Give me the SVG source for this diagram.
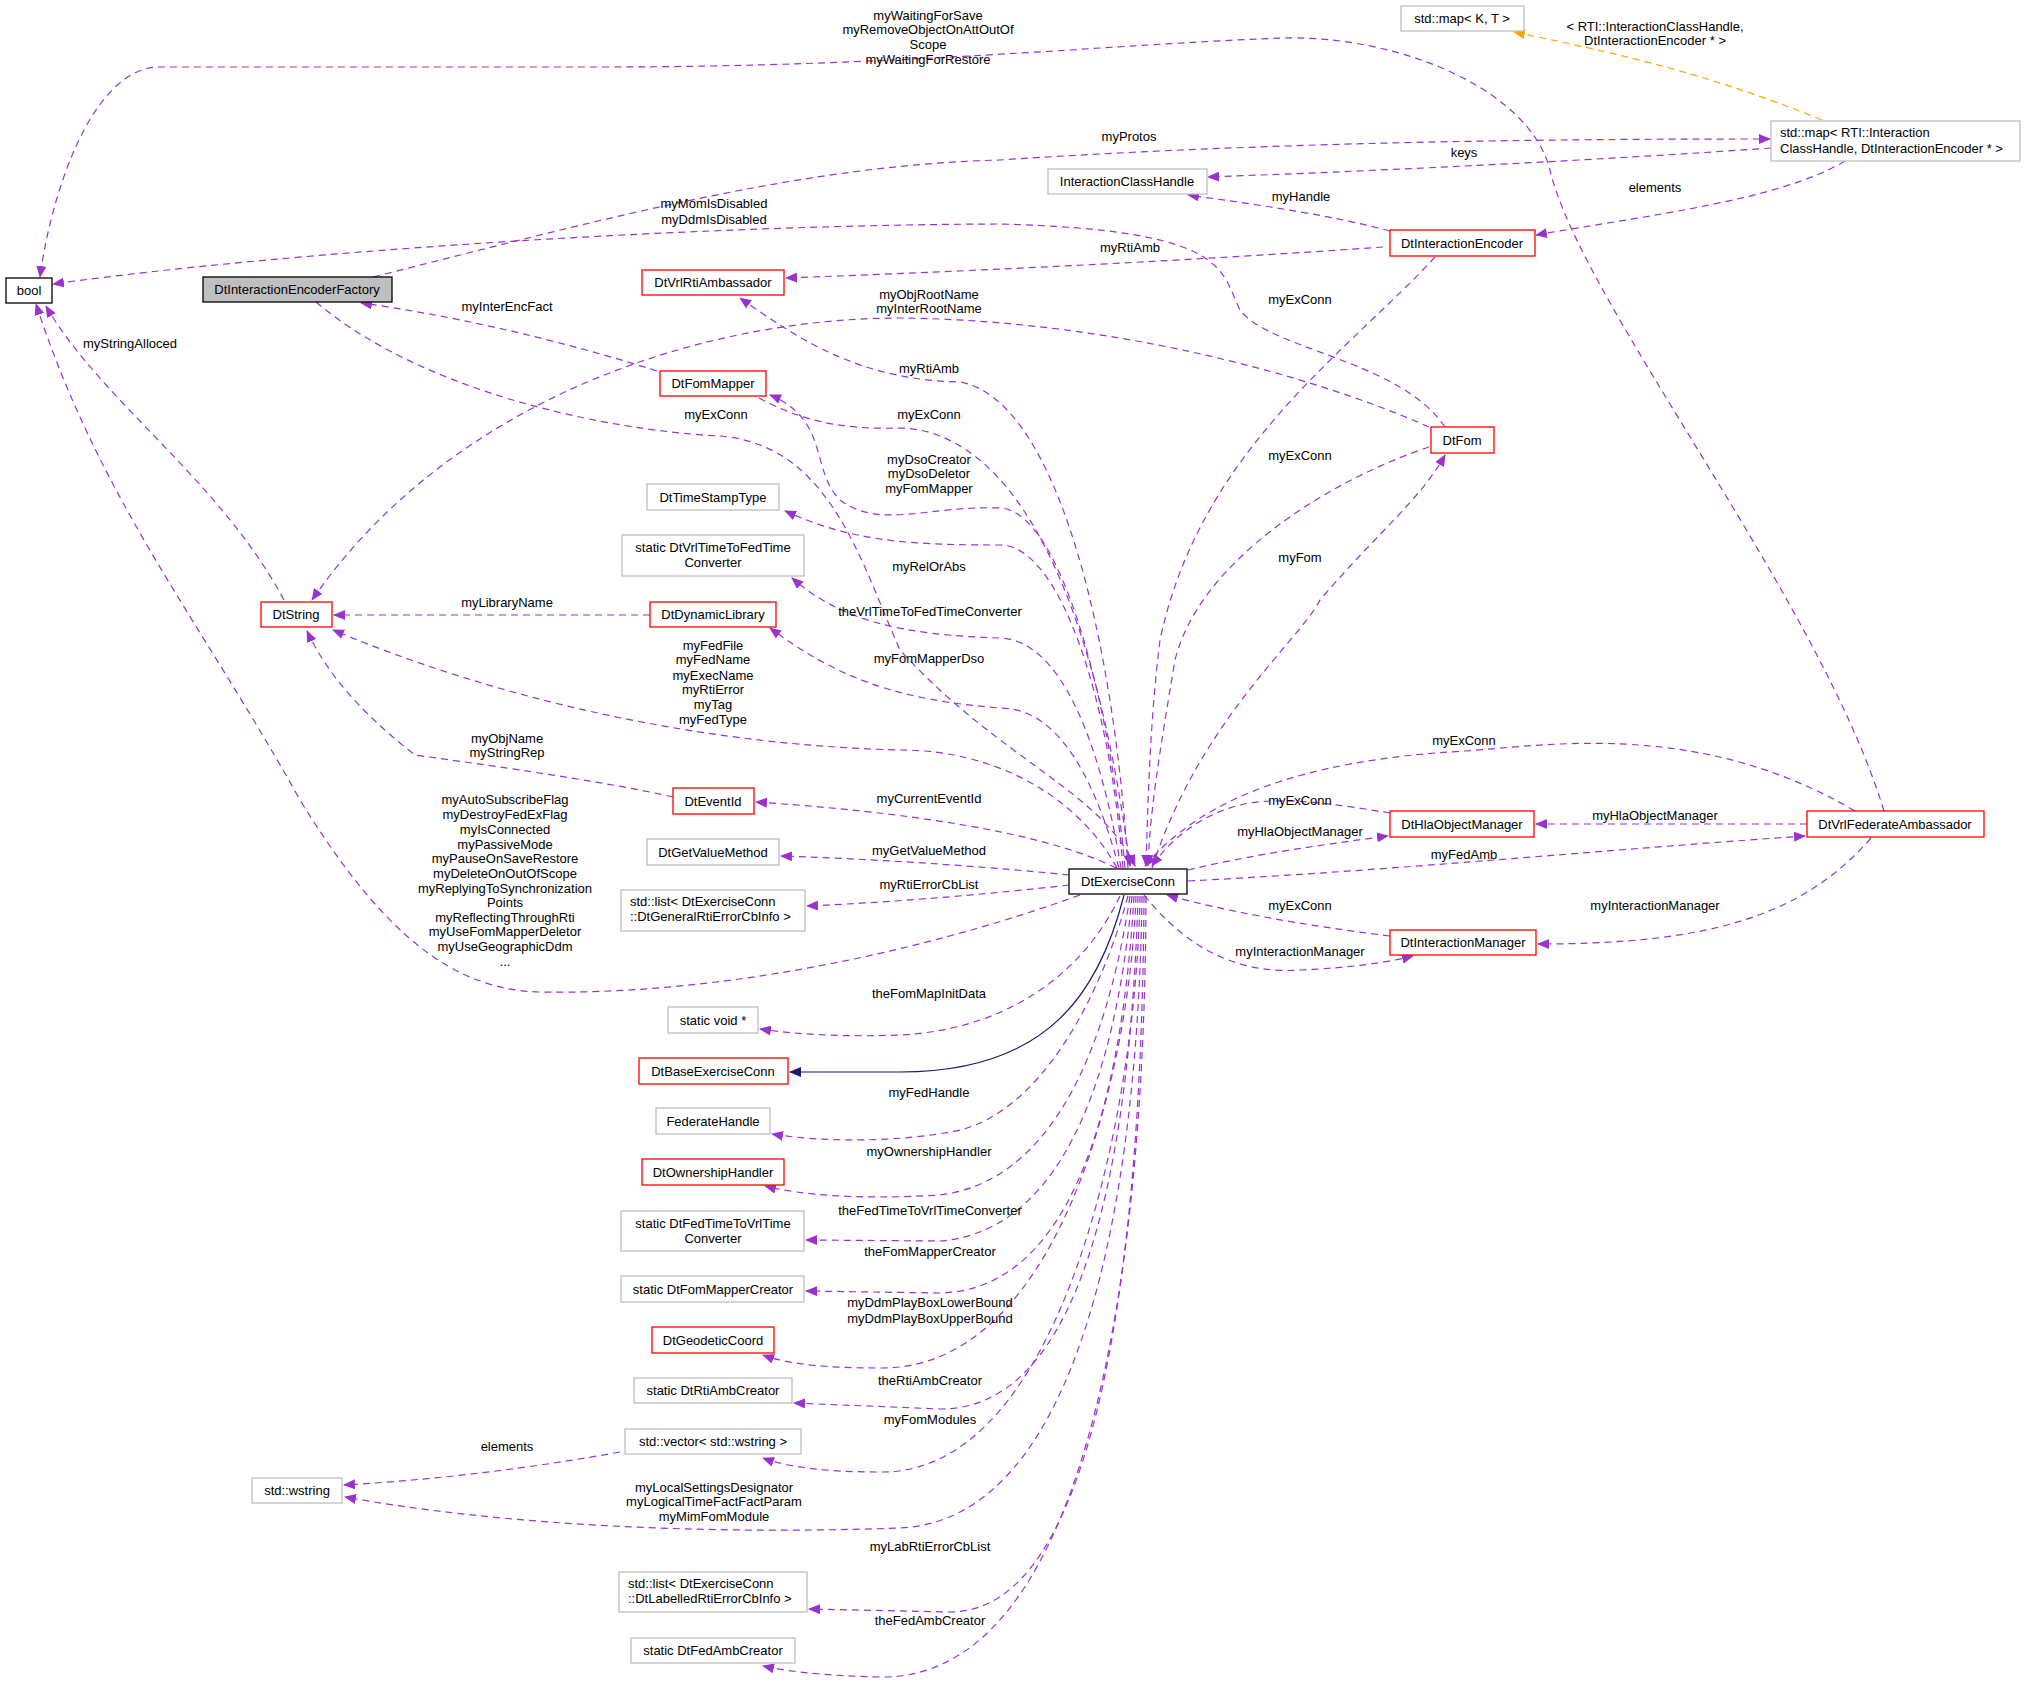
<svg xmlns="http://www.w3.org/2000/svg" width="2027" height="1684" viewBox="0 0 2027 1684">
<style>
.n rect{fill:#fff;stroke-width:1.3}
.r rect{stroke:#ff0000}.g rect{stroke:#bfbfbf}.k rect{stroke:#000}
text{font-family:"Liberation Sans",Arial,sans-serif;font-size:13px;fill:#000}
.n text{text-anchor:middle}
.l text{text-anchor:middle}
.e path{fill:none;stroke:#9a32cd;stroke-width:1.2;stroke-dasharray:7,5;marker-end:url(#a)}
.e path.o{stroke:#ffa500;marker-end:url(#ao)}
.e path.s{stroke:#191970;stroke-dasharray:none;marker-end:url(#as)}
</style>
<defs>
<marker id="a" markerWidth="12" markerHeight="10" refX="11" refY="5" orient="auto" markerUnits="userSpaceOnUse"><path d="M0,0L12,5L0,10z" fill="#9a32cd"/></marker>
<marker id="ao" markerWidth="12" markerHeight="10" refX="11" refY="5" orient="auto" markerUnits="userSpaceOnUse"><path d="M0,0L12,5L0,10z" fill="#ffa500"/></marker>
<marker id="as" markerWidth="12" markerHeight="10" refX="11" refY="5" orient="auto" markerUnits="userSpaceOnUse"><path d="M0,0L12,5L0,10z" fill="#191970"/></marker>
</defs>
<rect width="2027" height="1684" fill="#fff"/>
<g class="e" id="edges">
<path d="M1884,811 C1820,600 1580,300 1550,170 C1530,90 1400,35 1282,38 C1100,45 900,67 600,67 L160,67 C90,67 50,200 40,277"/>
<path d="M373,277 C600,220 800,165 1000,160 C1300,140 1600,139 1770,139"/>
<path d="M1771,148 C1600,160 1400,170 1208,177"/>
<path d="M1845,161 C1780,200 1650,215 1536,235"/>
<path class="o" d="M1822,120 C1700,70 1600,50 1514,32"/>
<path d="M1390,231 C1330,215 1260,205 1188,195"/>
<path d="M1383,247 C1200,260 1000,270 786,278"/>
<path d="M1445,427 C1400,360 1270,350 1240,310 C1220,270 1230,230 1000,224 C700,225 300,250 53,284"/>
<path d="M1429,427 C1300,370 1100,320 900,318 C700,318 450,400 312,600"/>
<path d="M1435,257 C1350,350 1200,450 1160,640 C1150,720 1148,800 1146,866"/>
<path d="M1429,447 C1330,480 1200,560 1175,660 C1160,750 1150,810 1148,866"/>
<path d="M1152,868 C1200,720 1300,640 1320,600 C1380,530 1420,500 1445,455"/>
<path d="M657,371 C560,340 450,315 361,303"/>
<path d="M316,302 C420,390 600,430 720,436 C830,445 860,560 900,650 C1000,760 1100,790 1135,866"/>
<path d="M1128,868 C1115,650 1060,400 960,382 C860,380 800,340 740,298"/>
<path d="M759,398 C800,420 840,430 900,428 C1000,430 1090,560 1130,866"/>
<path d="M1125,868 C1110,700 1060,510 1000,508 C930,505 880,530 840,500 C810,470 830,420 770,395"/>
<path d="M1123,868 C1110,700 1060,545 1000,545 C900,545 850,540 785,511"/>
<path d="M1121,868 C1100,740 1060,640 1000,638 C900,635 840,620 792,578"/>
<path d="M1119,868 C1090,760 1050,708 1000,708 C900,700 840,680 770,628"/>
<path d="M1117,868 C1080,800 1000,750 900,750 C700,745 500,700 333,630"/>
<path d="M673,797 C600,780 450,760 415,755 C370,720 330,680 307,631"/>
<path d="M1116,868 C1060,840 950,815 756,802"/>
<path d="M1069,875 C1000,868 900,860 781,856"/>
<path d="M1069,885 C1000,893 900,902 807,906"/>
<path d="M1080,895 C900,960 700,995 540,992 C450,990 380,930 300,800 C200,620 100,500 36,304"/>
<path d="M1120,896 C1080,980 1000,1030 900,1035 C850,1037 800,1035 760,1029"/>
<path class="s" d="M1124,895 C1100,990 1050,1072 900,1072 L790,1072"/>
<path d="M1128,896 C1100,1000 1040,1110 960,1130 C900,1143 820,1142 772,1134"/>
<path d="M1130,896 C1110,1030 1060,1180 940,1195 C860,1200 800,1195 765,1186"/>
<path d="M1132,896 C1120,1030 1080,1230 940,1241 L806,1240"/>
<path d="M1134,896 C1125,1050 1090,1290 940,1293 L806,1291"/>
<path d="M1136,896 C1130,1070 1060,1370 880,1368 C830,1368 790,1365 763,1355"/>
<path d="M1138,896 C1132,1100 1100,1410 940,1409 L794,1403"/>
<path d="M1140,896 C1136,1120 1060,1475 880,1472 C830,1472 790,1468 763,1458"/>
<path d="M1142,896 C1138,1200 1080,1520 900,1528 C700,1535 500,1525 345,1497"/>
<path d="M1144,896 C1142,1250 1100,1612 950,1612 L809,1609"/>
<path d="M1146,896 C1145,1300 1080,1680 880,1677 C830,1676 790,1672 763,1666"/>
<path d="M620,1452 C520,1470 430,1480 344,1485"/>
<path d="M650,615 L334,615"/>
<path d="M284,600 C220,480 100,400 46,306"/>
<path d="M1390,813 C1340,805 1280,795 1240,805 C1200,815 1170,840 1152,866"/>
<path d="M1188,870 C1250,855 1320,845 1388,836"/>
<path d="M1807,824 L1536,824"/>
<path d="M1855,811 C1700,720 1550,745 1465,751 C1300,760 1200,800 1145,866"/>
<path d="M1188,881 C1400,870 1600,850 1805,836"/>
<path d="M1390,936 C1300,925 1220,910 1167,895"/>
<path d="M1144,895 C1180,940 1230,975 1300,970 C1350,968 1390,962 1413,956"/>
<path d="M1871,838 C1800,920 1700,944 1538,944"/>
</g>
<g class="l" id="labels">
<text x="928" y="20">myWaitingForSave</text><text x="928" y="34">myRemoveObjectOnAttOutOf</text><text x="928" y="49">Scope</text><text x="928" y="64">myWaitingForRestore</text>
<text x="1129" y="141">myProtos</text>
<text x="1464" y="157">keys</text>
<text x="1655" y="192">elements</text>
<text x="1655" y="31">&lt; RTI::InteractionClassHandle,</text><text x="1655" y="45">DtInteractionEncoder * &gt;</text>
<text x="1301" y="201">myHandle</text>
<text x="1130" y="252">myRtiAmb</text>
<text x="714" y="208">myMomIsDisabled</text><text x="714" y="224">myDdmIsDisabled</text>
<text x="929" y="299">myObjRootName</text><text x="929" y="313">myInterRootName</text>
<text x="1300" y="304">myExConn</text>
<text x="1300" y="460">myExConn</text>
<text x="1300" y="562">myFom</text>
<text x="507" y="311">myInterEncFact</text>
<text x="716" y="419">myExConn</text>
<text x="929" y="373">myRtiAmb</text>
<text x="929" y="419">myExConn</text>
<text x="929" y="464">myDsoCreator</text><text x="929" y="478">myDsoDeletor</text><text x="929" y="493">myFomMapper</text>
<text x="929" y="571">myRelOrAbs</text>
<text x="930" y="616">theVrlTimeToFedTimeConverter</text>
<text x="929" y="663">myFomMapperDso</text>
<text x="713" y="650">myFedFile</text><text x="713" y="664">myFedName</text><text x="713" y="680">myExecName</text><text x="713" y="694">myRtiError</text><text x="713" y="709">myTag</text><text x="713" y="724">myFedType</text>
<text x="507" y="743">myObjName</text><text x="507" y="757">myStringRep</text>
<text x="929" y="803">myCurrentEventId</text>
<text x="929" y="855">myGetValueMethod</text>
<text x="929" y="889">myRtiErrorCbList</text>
<text x="505" y="804">myAutoSubscribeFlag</text><text x="505" y="819">myDestroyFedExFlag</text><text x="505" y="834">myIsConnected</text><text x="505" y="849">myPassiveMode</text><text x="505" y="863">myPauseOnSaveRestore</text><text x="505" y="878">myDeleteOnOutOfScope</text><text x="505" y="893">myReplyingToSynchronization</text><text x="505" y="907">Points</text><text x="505" y="922">myReflectingThroughRti</text><text x="505" y="936">myUseFomMapperDeletor</text><text x="505" y="951">myUseGeographicDdm</text><text x="505" y="966">...</text>
<text x="929" y="998">theFomMapInitData</text>
<text x="929" y="1097">myFedHandle</text>
<text x="929" y="1156">myOwnershipHandler</text>
<text x="930" y="1215">theFedTimeToVrlTimeConverter</text>
<text x="930" y="1256">theFomMapperCreator</text>
<text x="930" y="1307">myDdmPlayBoxLowerBound</text><text x="930" y="1323">myDdmPlayBoxUpperBound</text>
<text x="930" y="1385">theRtiAmbCreator</text>
<text x="930" y="1424">myFomModules</text>
<text x="714" y="1492">myLocalSettingsDesignator</text><text x="714" y="1506">myLogicalTimeFactFactParam</text><text x="714" y="1521">myMimFomModule</text>
<text x="930" y="1551">myLabRtiErrorCbList</text>
<text x="930" y="1625">theFedAmbCreator</text>
<text x="507" y="1451">elements</text>
<text x="507" y="607">myLibraryName</text>
<text x="130" y="348">myStringAlloced</text>
<text x="1300" y="805">myExConn</text>
<text x="1300" y="836">myHlaObjectManager</text>
<text x="1655" y="820">myHlaObjectManager</text>
<text x="1464" y="745">myExConn</text>
<text x="1464" y="859">myFedAmb</text>
<text x="1300" y="910">myExConn</text>
<text x="1300" y="956">myInteractionManager</text>
<text x="1655" y="910">myInteractionManager</text>
</g>
<g id="bool" class="n k"><rect x="6" y="278" width="46" height="25"/><text x="29" y="295">bool</text></g>
<g id="factory" class="n k"><rect x="203" y="277" width="189" height="25" style="fill:#bfbfbf"/><text x="297" y="294">DtInteractionEncoderFactory</text></g>
<g id="mapKT" class="n g"><rect x="1401" y="6" width="123" height="25"/><text x="1462" y="23">std::map&lt; K, T &gt;</text></g>
<g id="mapRTI" class="n g"><rect x="1771" y="121" width="249" height="40"/><text x="1780" y="137" style="text-anchor:start">std::map&lt; RTI::Interaction</text><text x="1780" y="153" style="text-anchor:start">ClassHandle, DtInteractionEncoder * &gt;</text></g>
<g id="ich" class="n g"><rect x="1048" y="169" width="159" height="25"/><text x="1127" y="186">InteractionClassHandle</text></g>
<g id="encoder" class="n r"><rect x="1390" y="230" width="145" height="26"/><text x="1462" y="248">DtInteractionEncoder</text></g>
<g id="fom" class="n r"><rect x="1431" y="427" width="63" height="26"/><text x="1462" y="445">DtFom</text></g>
<g id="vrlrti" class="n r"><rect x="642" y="270" width="142" height="25"/><text x="713" y="287">DtVrlRtiAmbassador</text></g>
<g id="fommapper" class="n r"><rect x="660" y="371" width="106" height="25"/><text x="713" y="388">DtFomMapper</text></g>
<g id="tst" class="n g"><rect x="647" y="484" width="132" height="26"/><text x="713" y="502">DtTimeStampType</text></g>
<g id="vrl2fed" class="n g"><rect x="622" y="535" width="182" height="41"/><text x="713" y="552">static DtVrlTimeToFedTime</text><text x="713" y="567">Converter</text></g>
<g id="dtstring" class="n r"><rect x="261" y="602" width="71" height="25"/><text x="296" y="619">DtString</text></g>
<g id="dynlib" class="n r"><rect x="650" y="602" width="126" height="25"/><text x="713" y="619">DtDynamicLibrary</text></g>
<g id="eventid" class="n r"><rect x="673" y="788" width="81" height="26"/><text x="713" y="806">DtEventId</text></g>
<g id="gvm" class="n g"><rect x="647" y="839" width="132" height="26"/><text x="713" y="857">DtGetValueMethod</text></g>
<g id="list1" class="n g"><rect x="621" y="890" width="184" height="41"/><text x="630" y="906" style="text-anchor:start">std::list&lt; DtExerciseConn</text><text x="630" y="921" style="text-anchor:start">::DtGeneralRtiErrorCbInfo &gt;</text></g>
<g id="svoid" class="n g"><rect x="668" y="1007" width="90" height="26"/><text x="713" y="1025">static void *</text></g>
<g id="base" class="n r"><rect x="639" y="1058" width="149" height="26"/><text x="713" y="1076">DtBaseExerciseConn</text></g>
<g id="fedh" class="n g"><rect x="656" y="1108" width="114" height="26"/><text x="713" y="1126">FederateHandle</text></g>
<g id="own" class="n r"><rect x="642" y="1159" width="142" height="26"/><text x="713" y="1177">DtOwnershipHandler</text></g>
<g id="fed2vrl" class="n g"><rect x="621" y="1211" width="183" height="40"/><text x="713" y="1228">static DtFedTimeToVrlTime</text><text x="713" y="1243">Converter</text></g>
<g id="fmc" class="n g"><rect x="621" y="1276" width="183" height="26"/><text x="713" y="1294">static DtFomMapperCreator</text></g>
<g id="geo" class="n r"><rect x="652" y="1327" width="122" height="26"/><text x="713" y="1345">DtGeodeticCoord</text></g>
<g id="rac" class="n g"><rect x="634" y="1378" width="158" height="25"/><text x="713" y="1395">static DtRtiAmbCreator</text></g>
<g id="vec" class="n g"><rect x="625" y="1429" width="176" height="25"/><text x="713" y="1446">std::vector&lt; std::wstring &gt;</text></g>
<g id="wstring" class="n g"><rect x="252" y="1478" width="90" height="25"/><text x="297" y="1495">std::wstring</text></g>
<g id="list2" class="n g"><rect x="619" y="1572" width="188" height="40"/><text x="628" y="1588" style="text-anchor:start">std::list&lt; DtExerciseConn</text><text x="628" y="1603" style="text-anchor:start">::DtLabelledRtiErrorCbInfo &gt;</text></g>
<g id="fac" class="n g"><rect x="631" y="1638" width="164" height="25"/><text x="713" y="1655">static DtFedAmbCreator</text></g>
<g id="exconn" class="n k"><rect x="1069" y="869" width="118" height="25"/><text x="1128" y="886">DtExerciseConn</text></g>
<g id="hla" class="n r"><rect x="1390" y="811" width="144" height="26"/><text x="1462" y="829">DtHlaObjectManager</text></g>
<g id="fedamb" class="n r"><rect x="1807" y="811" width="177" height="26"/><text x="1895" y="829">DtVrlFederateAmbassador</text></g>
<g id="im" class="n r"><rect x="1390" y="930" width="146" height="25"/><text x="1463" y="947">DtInteractionManager</text></g>
</svg>
